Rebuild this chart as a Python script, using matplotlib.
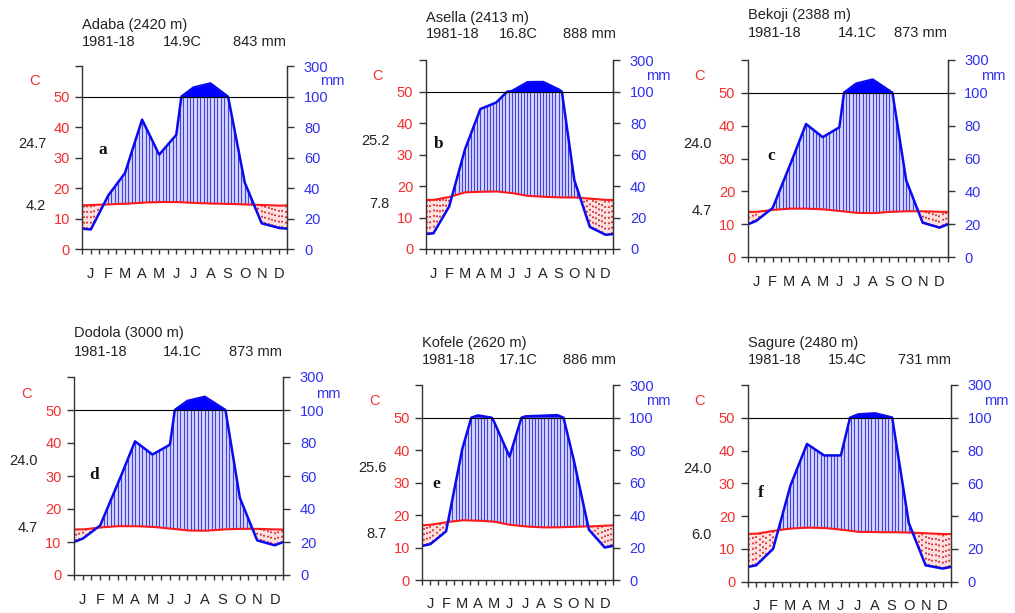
import numpy as np
import matplotlib
matplotlib.use('Agg')
import matplotlib.pyplot as plt

W, H = 1015, 613
plt.rcParams['font.family'] = ['Liberation Sans', 'DejaVu Sans']

months = ['J', 'F', 'M', 'A', 'M', 'J', 'J', 'A', 'S', 'O', 'N', 'D']

stations = ['Adaba (2420 m)', 'Asella (2413 m)', 'Bekoji (2388 m)',
            'Dodola (3000 m)', 'Kofele (2620 m)', 'Sagure (2480 m)']
period = '1981-18'
mean_temp = ['14.9C', '16.8C', '14.1C', '14.1C', '17.1C', '15.4C']
annual_prec = ['843 mm', '888 mm', '873 mm', '873 mm', '886 mm', '731 mm']
abs_max = ['24.7', '25.2', '24.0', '24.0', '25.6', '24.0']
abs_min = ['4.2', '7.8', '4.7', '4.7', '8.7', '6.0']
letters = ['a', 'b', 'c', 'd', 'e', 'f']

# monthly mean temperature (C) and precipitation (mm)
temp_adaba = [14.5, 14.7, 14.9, 15.3, 15.5, 15.5, 15.2, 15.0, 14.9, 14.7, 14.5, 14.3]
prec_adaba = [13, 35, 50, 85, 62, 75, 160, 187, 102, 44, 17, 14]
temp_asella = [15.6, 16.5, 18.0, 18.2, 18.3, 17.8, 16.9, 16.6, 16.4, 16.4, 16.0, 15.6]
prec_asella = [10, 27, 63, 89, 93, 103, 160, 162, 115, 44, 14, 9]
temp_bekoji = [13.8, 14.4, 14.8, 14.8, 14.6, 14.1, 13.5, 13.4, 13.8, 14.0, 14.0, 13.8]
prec_bekoji = [22, 30, 55, 81, 73, 79, 155, 180, 112, 47, 21, 18]
temp_dodola = [13.8, 14.4, 14.8, 14.8, 14.6, 14.1, 13.5, 13.4, 13.8, 14.0, 14.0, 13.8]
prec_dodola = [22, 30, 55, 81, 73, 79, 155, 180, 112, 47, 21, 18]
temp_kofele = [17.0, 17.8, 18.4, 18.3, 18.0, 17.0, 16.5, 16.2, 16.2, 16.4, 16.5, 16.7]
prec_kofele = [22, 30, 80, 114, 98, 76, 108, 112, 116, 76, 31, 20]
temp_sagure = [14.6, 15.5, 16.2, 16.5, 16.4, 15.9, 15.2, 15.1, 15.1, 15.0, 14.8, 14.5]
prec_sagure = [10, 20, 58, 84, 77, 77, 120, 127, 102, 36, 10, 8]

temps = [temp_adaba, temp_asella, temp_bekoji, temp_dodola, temp_kofele, temp_sagure]
precs = [prec_adaba, prec_asella, prec_bekoji, prec_dodola, prec_kofele, prec_sagure]

# panel boxes in pixels: left, right, bottom (0 C), top (60 C)
boxes = [(82.3, 287.3, 249.3, 66.2), (425.7, 613.3, 249.0, 60.2),
         (747.7, 947.7, 257.3, 59.8), (74.0, 283.3, 575.0, 377.0),
         (422.3, 612.7, 580.0, 385.2), (747.7, 951.0, 581.7, 384.9)]
title_y = [(25, 41.7), (18.3, 34), (15, 33.3), (332.7, 351.7), (342.7, 360), (342.7, 360)]
col_t = [0.395, 0.39, 0.45, 0.427, 0.404, 0.396]
col_p = [0.737, 0.733, 0.733, 0.742, 0.737, 0.738]
letter_pos = [(1.2, 32.5), (0.85, 33.4), (1.44, 30.8), (1.16, 30.3), (0.9, 29.6), (0.78, 27.1)]

RED = '#f03030'
BLUE = '#3030ee'
FS = 10.5


def interp(v, xs):
    # Dec before Jan and Jan after Dec, so the edges are closed
    x = np.arange(-0.5, 12.6, 1.0)
    y = np.r_[v[-1], v, v[0]]
    return np.interp(xs, x, y)


def to_scale(p):
    # 1 C = 2 mm up to 100 mm, then 1 C = 20 mm
    p = np.asarray(p, float)
    return np.where(p > 100, 50 + (p - 100) / 20.0, p / 2.0)


fig = plt.figure(figsize=(W / 100, H / 100), dpi=100)

xs = np.linspace(0, 12, 1201)
hx = np.arange(0.1, 12, 0.2)

for i in range(6):
    l, r, b, t_ = boxes[i]
    ax = fig.add_axes([l / W, 1 - b / H, (r - l) / W, (b - t_) / H])
    ax.set_xlim(0, 12)
    ax.set_ylim(0, 60)

    t = interp(temps[i], xs)
    p = interp(precs[i], xs)
    py = to_scale(p)
    pl = np.minimum(p, 100) / 2

    ax.fill_between(xs, t, pl, where=pl >= t, color='#d6d6f6', lw=0, interpolate=True)
    ax.fill_between(xs, pl, t, where=pl < t, color='#fbe2e2', lw=0, interpolate=True)

    ht = interp(temps[i], hx)
    hp = np.minimum(interp(precs[i], hx), 100) / 2
    wet = hp > ht
    ax.vlines(hx[wet], ht[wet], hp[wet], color='#4040e6', lw=0.8)
    ax.vlines(hx[~wet], hp[~wet], ht[~wet], color='#e02828', lw=1.3,
              linestyles=(0, (1, 2)))

    ax.fill_between(xs, 50, py, where=p > 100, color='#0000ff', lw=0, interpolate=True)
    ax.plot(xs, t, color='#ff1a1a', lw=1.5)
    ax.plot(xs, py, color='#0a0af0', lw=1.8)
    ax.axhline(50, color='k', lw=0.8)

    ax.spines['top'].set_visible(False)
    for s in ['left', 'right', 'bottom']:
        ax.spines[s].set_color('#333333')
        ax.spines[s].set_linewidth(1)

    ax.set_yticks(np.arange(0, 61, 10))
    ax.set_yticklabels(['0', '10', '20', '30', '40', '50', ''])
    ax.tick_params(axis='y', colors='#333333', labelcolor=RED, labelsize=FS,
                   length=5, width=1, pad=4)
    ax.set_xticks(np.arange(0, 12.01, 0.5))
    ax.set_xticklabels(['' if k % 2 == 0 else months[k // 2] for k in range(25)])
    ax.tick_params(axis='x', colors='#333333', labelcolor='#222222', labelsize=FS,
                   length=3.6, width=1, pad=9)

    ax2 = ax.twinx()
    ax2.set_ylim(0, 60)
    for s in ['top', 'bottom', 'left']:
        ax2.spines[s].set_visible(False)
    ax2.spines['right'].set_color('#333333')
    ax2.set_yticks(np.arange(0, 61, 10))
    ax2.set_yticklabels(['0', '20', '40', '60', '80', '100', '300'])
    ax2.tick_params(axis='y', colors='#333333', labelcolor=BLUE, labelsize=FS,
                    length=5, width=1, pad=7)

    ax.text(1 + 33 / (r - l), 55, 'mm', transform=ax.get_yaxis_transform(),
            color=BLUE, fontsize=FS, va='center', ha='left')
    ax.annotate('C', xy=(0, 55), xycoords=('axes fraction', 'data'),
                xytext=(-48 * 0.72, 0), textcoords='offset points',
                ha='center', va='center', color=RED, fontsize=FS)
    ax.annotate(abs_max[i], xy=(0, 34.4), xycoords=('axes fraction', 'data'),
                xytext=(-36 * 0.72, 0), textcoords='offset points',
                ha='right', va='center', color='#222222', fontsize=FS)
    ax.annotate(abs_min[i], xy=(0, 14.2), xycoords=('axes fraction', 'data'),
                xytext=(-36 * 0.72, 0), textcoords='offset points',
                ha='right', va='center', color='#222222', fontsize=FS)
    lx, ly = letter_pos[i]
    ax.text(lx, ly, letters[i], family='Liberation Serif', fontweight='bold',
            fontsize=12.5, ha='center', va='center', color='#111111')

    y1, y2 = title_y[i]
    fig.text(l / W, 1 - y1 / H, stations[i], fontsize=FS, va='center', color='#222222')
    fig.text(l / W, 1 - y2 / H, period, fontsize=FS, va='center', color='#222222')
    fig.text((l + col_t[i] * (r - l)) / W, 1 - y2 / H, mean_temp[i], fontsize=FS,
             va='center', color='#222222')
    fig.text((l + col_p[i] * (r - l)) / W, 1 - y2 / H, annual_prec[i], fontsize=FS,
             va='center', color='#222222')

fig.savefig('out.png', dpi=100)
